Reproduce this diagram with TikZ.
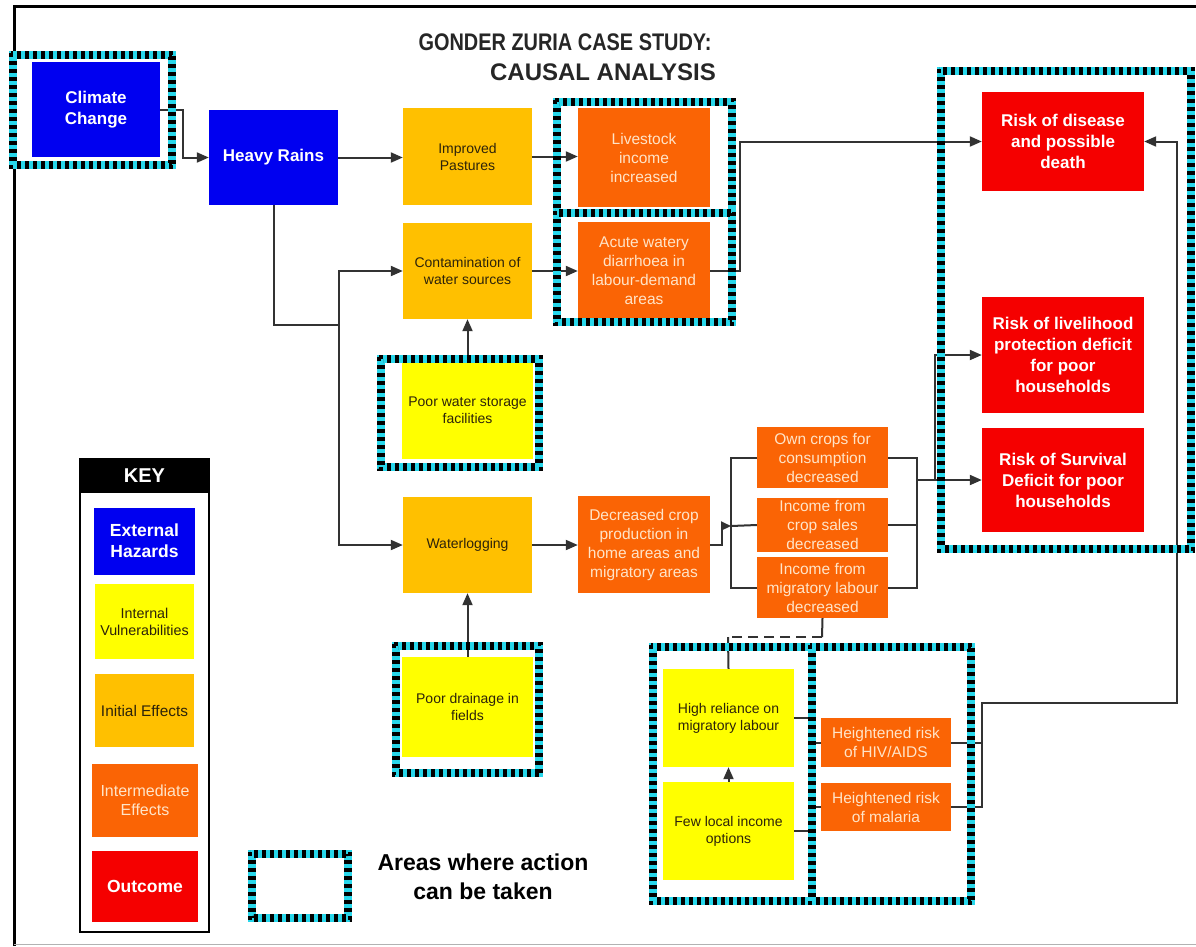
\documentclass[tikz,border=0pt]{standalone}
\usepackage{fontspec}
\setmainfont{Liberation Sans}
\newfontfamily\titlefont[FakeStretch=0.83]{Liberation Sans}
\usetikzlibrary{arrows.meta}
\definecolor{cblue}{RGB}{0,0,240}
\definecolor{cyel}{RGB}{255,255,0}
\definecolor{cinit}{RGB}{255,192,0}
\definecolor{corange}{RGB}{250,100,5}
\definecolor{cred}{RGB}{245,0,0}
\definecolor{acyan}{RGB}{40,215,235}
\definecolor{lncol}{RGB}{50,50,50}
\definecolor{paletxt}{RGB}{255,228,200}
\definecolor{darktxt}{RGB}{45,35,10}
\newcommand\actframe[4]{%
  \draw[acyan, line width=8pt] ({#1+4},{#2+4}) rectangle ({#3-4},{#4-4});
  \draw[black, line width=4pt, dash pattern=on 4pt off 4pt] ({#1+2},{#2+2}) rectangle ({#3-2},{#4-2});
  \draw[black, line width=4pt, dash pattern=on 4pt off 4pt, dash phase=4pt] ({#1+6},{#2+6}) rectangle ({#3-6},{#4-6});}
\begin{document}
\begin{tikzpicture}[x=1pt,y=-1pt,
  bx/.style={inner sep=0pt, align=center, draw=none},
  hazard/.style={bx, fill=cblue, text=white, font={\fontsize{17}{21}\selectfont\bfseries}},
  vuln/.style={bx, fill=cyel, text=darktxt, font={\fontsize{14}{17}\selectfont}},
  initial/.style={bx, fill=cinit, text=darktxt, font={\fontsize{14}{17}\selectfont}},
  inter/.style={bx, fill=corange, text=paletxt, font={\fontsize{15.5}{19}\selectfont}},
  outcome/.style={bx, fill=cred, text=white, font={\fontsize{17}{21}\selectfont\bfseries}},
  line/.style={draw=lncol, line width=2pt},
  arr/.style={line, -{Triangle[length=12pt,width=10pt]}},
  sarr/.style={line, -{Triangle[length=10pt,width=9pt]}}]
\useasboundingbox (0,0) rectangle (1196,946);
\fill[white] (0,0) rectangle (1196,946);
% outer frame
\draw[black, line width=3pt] (14,946) -- (14,6) -- (1196,6);
\draw[gray!60, line width=1pt] (14,944) -- (1196,944);
% title
\node[font={\titlefont\fontsize{24}{28}\selectfont\bfseries}, text=black!85] (t1) at (565,42) {GONDER ZURIA CASE STUDY:};
\node[font={\fontsize{24}{28}\selectfont\bfseries}, text=black!85] (t2) at (603,72) {CAUSAL ANALYSIS};
% nodes
\node[hazard, minimum width=128, minimum height=95] (cc) at (96,109.5) {Climate\\Change};
\node[hazard, minimum width=129, minimum height=95] (hr) at (273.5,157.5) {Heavy Rains};
\node[initial, minimum width=129, minimum height=97] (ip) at (467.5,156.5) {Improved\\Pastures};
\node[initial, minimum width=129, minimum height=96] (cw) at (467.5,271) {Contamination of\\water sources};
\node[vuln, minimum width=131, minimum height=97] (pws) at (467.5,410.5) {Poor water storage\\facilities};
\node[initial, minimum width=129, minimum height=96] (wl) at (467.5,545) {Waterlogging};
\node[vuln, minimum width=131, minimum height=100] (pd) at (467.5,707) {Poor drainage in\\fields};
\node[inter, minimum width=132, minimum height=99] (li) at (644,157.5) {Livestock\\income\\increased};
\node[inter, minimum width=132, minimum height=98] (aw) at (644,271) {Acute watery\\diarrhoea in\\labour-demand\\areas};
\node[inter, minimum width=132, minimum height=97] (dc) at (644,544.5) {Decreased crop\\production in\\home areas and\\migratory areas};
\node[inter, minimum width=131, minimum height=61] (oc) at (822.5,457.5) {Own crops for\\consumption\\decreased};
\node[inter, minimum width=131, minimum height=54] (ics) at (822.5,525) {Income from\\crop sales\\decreased};
\node[inter, minimum width=131, minimum height=61] (iml) at (822.5,587.5) {Income from\\migratory labour\\decreased};
\node[vuln, minimum width=131, minimum height=98] (hrm) at (728.5,718) {High reliance on\\migratory labour};
\node[vuln, minimum width=131, minimum height=98] (flo) at (728.5,831) {Few local income\\options};
\node[inter, minimum width=130, minimum height=49] (hiv) at (886,742.5) {Heightened risk\\of HIV/AIDS};
\node[inter, minimum width=130, minimum height=48] (mal) at (886,807) {Heightened risk\\of malaria};
\node[outcome, minimum width=162, minimum height=99] (rd) at (1063,141.5) {Risk of disease\\and possible\\death};
\node[outcome, minimum width=162, minimum height=116] (rl) at (1063,355) {Risk of livelihood\\protection deficit\\for poor\\households};
\node[outcome, minimum width=162, minimum height=104] (rs) at (1063,480) {Risk of Survival\\Deficit for poor\\households};
% connectors
\draw[arr] (cc.east) -- ++(23,0) |- (hr.west);
\draw[arr] (hr.east) -- (hr.east -| ip.west);
\draw[arr] (ip.east) -- (ip.east -| li.west);
\coordinate (j1) at (339,325);
\draw[line] (hr.south) |- (j1);
\draw[arr] (j1) |- (cw.west);
\draw[arr] (j1) |- (wl.west);
\draw[arr] (cw.east) -- (cw.east -| aw.west);
\draw[arr] (pws.north) -- (cw.south);
\draw[arr] (wl.east) -- (wl.east -| dc.west);
\draw[arr] (pd.north) -- (wl.south);
\draw[arr] (aw.east) -- (740,271) |- (rd.west);
% crop bus
\coordinate (b1) at (731,526);
\draw[sarr] (dc.east) -- (722,544.5) |- (b1);
\draw[line] (oc.west) -- (731,457.5) -- (731,587.5) -- (iml.west);
\draw[line] (ics.west) -- (b1);
\coordinate (b2) at (917,480);
\draw[line] (oc.east) -- (917,457.5) -- (917,587.5) -- (iml.east);
\draw[line] (ics.east) -- (917,525);
\draw[arr] (b2) -- (rs.west);
\draw[arr] (935,480) |- (rl.west);
% dashed link
\coordinate (d1) at (822,637);
\coordinate (d2) at (728,637);
\draw[line] (iml.south) -- (d1);
\draw[line, dash pattern=on 10pt off 6pt] (d1) -- (d2);
\draw[line] (d2) -- (hrm.north);
\draw[arr] (flo.north) -- (hrm.south);
\draw[line] (hrm.east) -- (810,718) |- (hiv.west);
\draw[line] (flo.east) -- (810,831) |- (mal.west);
\draw[line] (hiv.east) -- (982,742.5);
\draw[arr] (mal.east) -| (982,703) -- (1177,703) |- (rd.east);
% key
\draw[black, line width=1.5pt] (80,459) rectangle (209,932);
\fill[black] (80,459) rectangle (209,493);
\node[text=white, font={\fontsize{20}{24}\selectfont\bfseries}] (key) at (144.5,476) {KEY};
\node[hazard, minimum width=101, minimum height=67, font={\fontsize{17.5}{21}\selectfont\bfseries}] (k1) at (144.5,541) {External\\Hazards};
\node[vuln, minimum width=99, minimum height=75, font={\fontsize{14.3}{17}\selectfont}] (k2) at (144.5,621.5) {Internal\\Vulnerabilities};
\node[initial, minimum width=99, minimum height=73, font={\fontsize{15.4}{18}\selectfont}] (k3) at (144.5,710.5) {Initial Effects};
\node[inter, minimum width=106, minimum height=73, font={\fontsize{16}{19}\selectfont}] (k4) at (145,800) {Intermediate\\Effects};
\node[outcome, minimum width=106, minimum height=71, font={\fontsize{17.5}{21}\selectfont\bfseries}] (k5) at (145,886) {Outcome};
% legend for action frame
\node[font={\fontsize{23}{29}\selectfont\bfseries}, align=center] (alab) at (483,877) {Areas where action\\can be taken};
% action frames
\actframe{9}{51}{176}{169}
\actframe{553}{98}{736}{217}
\actframe{553}{209}{736}{326}
\actframe{377}{355}{543}{471}
\actframe{392}{642}{543}{777}
\actframe{937}{67}{1195}{553}
\actframe{649}{643}{816}{905}
\actframe{808}{643}{975}{905}
\actframe{248}{850}{352}{922}
\end{tikzpicture}
\end{document}
